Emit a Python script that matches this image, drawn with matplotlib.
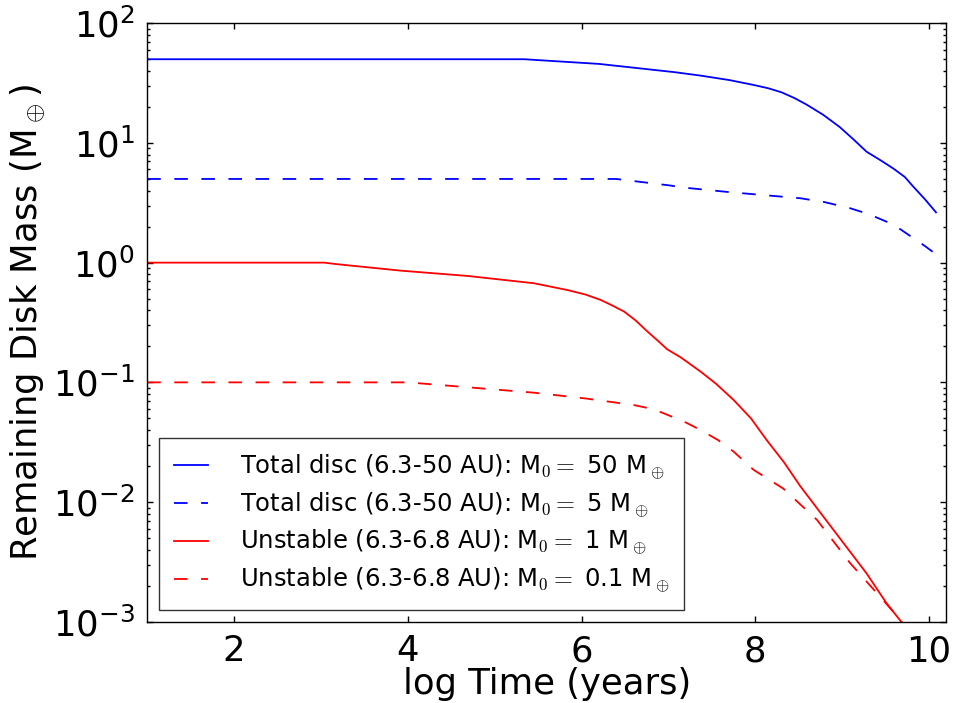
import matplotlib
matplotlib.use("Agg")
import matplotlib.pyplot as plt
from matplotlib.ticker import FixedLocator, LogLocator, NullLocator

# log10 of time (years) and remaining disc mass (Earth masses) for each model
t_total_50 = [1.0, 5.34, 6.2, 7.07, 7.37, 7.7, 7.98, 8.15, 8.3, 8.45, 8.59, 8.78, 8.97,
              9.13, 9.28, 9.45, 9.59, 9.72, 9.82, 9.95, 10.08]
m_total_50 = [50, 50, 45.7, 39.0, 36.5, 33.5, 30.5, 28.6, 26.5, 23.7, 20.9, 17.2, 13.6,
              10.7, 8.45, 7.1, 6.1, 5.2, 4.3, 3.4, 2.63]

t_total_5 = [1.0, 6.4, 7.03, 7.17, 7.72, 8.52, 8.8, 9.09, 9.3, 9.51, 9.67, 9.82, 9.95, 10.05]
m_total_5 = [5.0, 5.0, 4.4, 4.24, 3.87, 3.45, 3.2, 2.85, 2.55, 2.2, 1.9, 1.6, 1.38, 1.22]

t_unst_1 = [1.0, 3.04, 3.16, 3.92, 4.69, 5.45, 5.84, 6.05, 6.22, 6.35, 6.49, 6.62, 6.76,
            6.88, 6.985, 7.14, 7.37, 7.55, 7.75, 7.95, 8.13, 8.33, 8.52, 8.90, 9.28,
            9.51, 9.68, 10.08]
m_unst_1 = [1.0, 1.0, 0.975, 0.857, 0.774, 0.673, 0.59, 0.54, 0.488, 0.44, 0.39, 0.33,
            0.265, 0.222, 0.189, 0.162, 0.123, 0.097, 0.0713, 0.050, 0.033, 0.0215,
            0.0135, 0.00585, 0.00254, 0.00143, 0.001, 0.00042]

t_unst_01 = [1.0, 4.0, 4.69, 5.45, 6.03, 6.60, 6.83, 6.99, 7.18, 7.37, 7.57, 7.75, 7.98,
             8.32, 8.71, 9.09, 9.47, 9.59, 10.08]
m_unst_01 = [0.1, 0.1, 0.091, 0.082, 0.0736, 0.0647, 0.0596, 0.0535, 0.047, 0.040, 0.033,
             0.0264, 0.0186, 0.013, 0.0071, 0.0031, 0.00152, 0.00121, 0.00045]

labels = [
    r"Total disc (6.3-50 AU): M$_0 =$ 50 M$_\oplus$",
    r"Total disc (6.3-50 AU): M$_0 =$ 5 M$_\oplus$",
    r"Unstable (6.3-6.8 AU): M$_0 =$ 1 M$_\oplus$",
    r"Unstable (6.3-6.8 AU): M$_0 =$ 0.1 M$_\oplus$",
]

x_ticks = [2, 4, 6, 8, 10]

plt.rcParams["mathtext.fontset"] = "cm"
plt.rcParams["font.family"] = "DejaVu Sans"

fig = plt.figure(figsize=(9.56, 7.03), dpi=100)
ax = fig.add_axes([0.154, 0.1155, 0.836, 0.8515])

dash = (0, (7.5, 7.5))
lw = 1.3
ax.plot(t_total_50, m_total_50, color="#0000ff", lw=lw, label=labels[0])
ax.plot(t_total_5, m_total_5, color="#0000ff", lw=lw, ls=dash, label=labels[1])
ax.plot(t_unst_1, m_unst_1, color="#ff0000", lw=lw, label=labels[2])
ax.plot(t_unst_01, m_unst_01, color="#ff0000", lw=lw, ls=dash, label=labels[3])

ax.set_yscale("log")
ax.set_xlim(1, 10.2)
ax.set_ylim(1e-3, 1e2)
ax.xaxis.set_major_locator(FixedLocator(x_ticks))
ax.xaxis.set_minor_locator(NullLocator())
ax.yaxis.set_major_locator(LogLocator(base=10, numticks=10))
ax.yaxis.set_minor_locator(LogLocator(base=10, subs=range(2, 10), numticks=20))

ax.tick_params(which="both", direction="in", top=True, right=True, width=1.0,
               labelsize=25.5, pad=9)
ax.tick_params(which="major", length=4.5)
ax.tick_params(which="minor", length=2.3)
for sp in ax.spines.values():
    sp.set_linewidth(1.0)

ax.set_xlabel("log Time (years)", fontsize=25.5, labelpad=-1)
ax.set_ylabel(r"Remaining Disk Mass (M$_\oplus$)", fontsize=25.5, labelpad=4)

leg = ax.legend(loc="lower left", fontsize=17.5, fancybox=False, frameon=True,
                handlelength=1.4, handletextpad=1.3, labelspacing=0.35,
                borderpad=0.6, borderaxespad=0.5)
leg.get_frame().set_edgecolor("black")
leg.get_frame().set_linewidth(1.0)

fig.savefig("out.png", dpi=100, facecolor="white")
